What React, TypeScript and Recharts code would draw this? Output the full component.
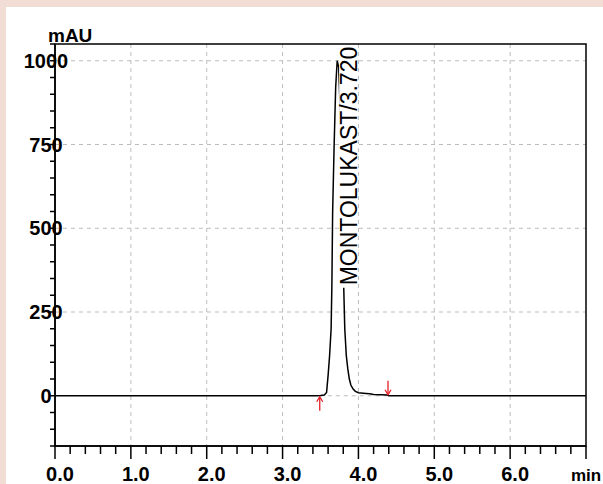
import {
  LineChart,
  Line,
  XAxis,
  YAxis,
  CartesianGrid,
  ReferenceLine,
  ReferenceDot,
  ReferenceArea,
} from 'recharts'

// retention time (min) and detector response (mAU)
const times = [
  0, 1.0, 2.0, 3.0, 3.45, 3.5, 3.55, 3.58, 3.6, 3.62, 3.64, 3.65, 3.66, 3.68, 3.7, 3.72,
  3.74, 3.76, 3.78, 3.8, 3.82, 3.84, 3.86, 3.88, 3.9, 3.93, 3.96, 4.0, 4.1, 4.15, 4.2,
  4.3, 4.38, 4.4, 5.0, 6.0, 7.0,
]
const response = [
  0, 0, 0, 0, 0, 0.5, 2, 10, 60, 120, 200, 330, 550, 750, 920, 1000,
  980, 850, 600, 380, 200, 120, 80, 50, 32, 20, 13, 9, 7, 6, 4,
  3, 2, 0, 0, 0, 0,
]

const xTicks = [
  0, 0.2, 0.4, 0.6, 0.8, 1, 1.2, 1.4, 1.6, 1.8, 2, 2.2, 2.4, 2.6, 2.8, 3, 3.2, 3.4, 3.6,
  3.8, 4, 4.2, 4.4, 4.6, 4.8, 5, 5.2, 5.4, 5.6, 5.8, 6, 6.2, 6.4, 6.6, 6.8, 7,
]
const yTicks = [
  -150, -100, -50, 0, 50, 100, 150, 200, 250, 300, 350, 400, 450, 500, 550, 600, 650,
  700, 750, 800, 850, 900, 950, 1000, 1050,
]
const yLabels = [0, 250, 500, 750, 1000]
const gridX = [1, 2, 3, 4, 5, 6]
const gridY = [250, 500, 750, 1000]

const peakName = 'MONTOLUKAST/3.720'
const peakTime = 3.72
const peakHeight = 1000
const peakStart = 3.49
const peakEnd = 4.39

const chartData = times.map((t, i) => ({ t, mAU: response[i] }))

const FONT = '"Liberation Sans", Arial, sans-serif'
const RED = '#e3202a'

function XTick({ x, y, payload }: any) {
  const v = payload.value
  const major = Math.abs(v - Math.round(v)) < 1e-6
  const last = v === 7
  return (
    <g>
      <line x1={x} x2={x} y1={y} y2={y + (major ? 13 : 8)} stroke="#000" strokeWidth={1.5} />
      {major && (
        <text
          x={x + (last ? 0 : 5)}
          y={y + 35}
          textAnchor="middle"
          fontFamily={FONT}
          fontWeight="bold"
          fontSize={last ? 17 : 20}
          fill="#000"
        >
          {last ? 'min' : v.toFixed(1)}
        </text>
      )}
    </g>
  )
}

function YTick({ x, y, payload }: any) {
  const v = payload.value
  return (
    <g>
      <line x1={x - 5} x2={x} y1={y} y2={y} stroke="#000" strokeWidth={1.5} />
      {yLabels.includes(v) && (
        <text
          x={x - 9}
          y={y + 7}
          textAnchor="middle"
          fontFamily={FONT}
          fontWeight="bold"
          fontSize={20}
          fill="#000"
        >
          {v}
        </text>
      )}
    </g>
  )
}

function UpArrow({ cx, cy }: any) {
  return (
    <g stroke={RED} strokeWidth={1.3} fill="none">
      <line x1={cx} y1={cy + 1} x2={cx} y2={cy + 15} />
      <path d={`M${cx - 3},${cy + 6} L${cx},${cy + 1} L${cx + 3},${cy + 6}`} />
    </g>
  )
}

function DownArrow({ cx, cy }: any) {
  return (
    <g stroke={RED} strokeWidth={1.3} fill="none">
      <line x1={cx} y1={cy - 15} x2={cx} y2={cy - 1} />
      <path d={`M${cx - 3},${cy - 6} L${cx},${cy - 1} L${cx + 3},${cy - 6}`} />
    </g>
  )
}

function PeakLabel({ cx, cy }: any) {
  const lx = cx + 12
  const top = cy - 14
  return (
    <g>
      <rect x={lx - 10} y={top - 1} width={18} height={242} fill="#fff" />
      <text
        transform={`translate(${lx},${top}) rotate(-90)`}
        textAnchor="end"
        dominantBaseline="central"
        fontFamily={FONT}
        fontSize={23}
        fill="#000"
      >
        {peakName}
      </text>
    </g>
  )
}

export default function App() {
  return (
    <div style={{ position: 'absolute', left: 0, top: 0, width: 603, height: 484, background: '#f2ddd5' }}>
      <div style={{ position: 'absolute', left: 6, top: 7, right: 0, bottom: 0, background: '#fff' }} />
      <div style={{ position: 'absolute', left: 0, top: 0 }}>
        <LineChart
          width={603}
          height={484}
          data={chartData}
          margin={{ top: 44, right: 17, left: 0, bottom: 0 }}
        >
          <CartesianGrid
            stroke="#bdbdbd"
            strokeDasharray="4 4"
            verticalValues={gridX}
            horizontalValues={gridY}
          />
          <XAxis
            dataKey="t"
            type="number"
            domain={[0, 7]}
            ticks={xTicks}
            interval={0}
            height={38}
            tickSize={0}
            tickMargin={0}
            tickLine={false}
            axisLine={{ stroke: '#000', strokeWidth: 1.5 }}
            tick={<XTick />}
          />
          <YAxis
            type="number"
            domain={[-150, 1050]}
            ticks={yTicks}
            interval={0}
            width={55}
            tickSize={0}
            tickMargin={0}
            tickLine={false}
            axisLine={{ stroke: '#000', strokeWidth: 1.5 }}
            tick={<YTick />}
            label={(props: any) => {
              const vb = props.viewBox || {}
              return (
                <text
                  x={(vb.x ?? 0) + 48}
                  y={(vb.y ?? 44) - 2}
                  fontFamily={FONT}
                  fontWeight="bold"
                  fontSize={19}
                  fill="#000"
                >
                  mAU
                </text>
              )
            }}
          />
          <ReferenceArea x1={0} x2={7} y1={-150} y2={1050} fill="none" stroke="#000" strokeWidth={1.5} />
          <ReferenceLine
            segment={[
              { x: peakStart, y: 0 },
              { x: peakEnd, y: 0 },
            ]}
            stroke="#bdbdbd"
            strokeDasharray="4 4"
          />
          <Line
            type="linear"
            dataKey="mAU"
            stroke="#000"
            strokeWidth={1.5}
            dot={false}
            isAnimationActive={false}
          />
          <ReferenceDot x={peakTime} y={peakHeight} shape={<PeakLabel />} />
          <ReferenceDot x={peakStart} y={0} shape={<UpArrow />} />
          <ReferenceDot x={peakEnd} y={0} shape={<DownArrow />} />
        </LineChart>
      </div>
    </div>
  )
}
